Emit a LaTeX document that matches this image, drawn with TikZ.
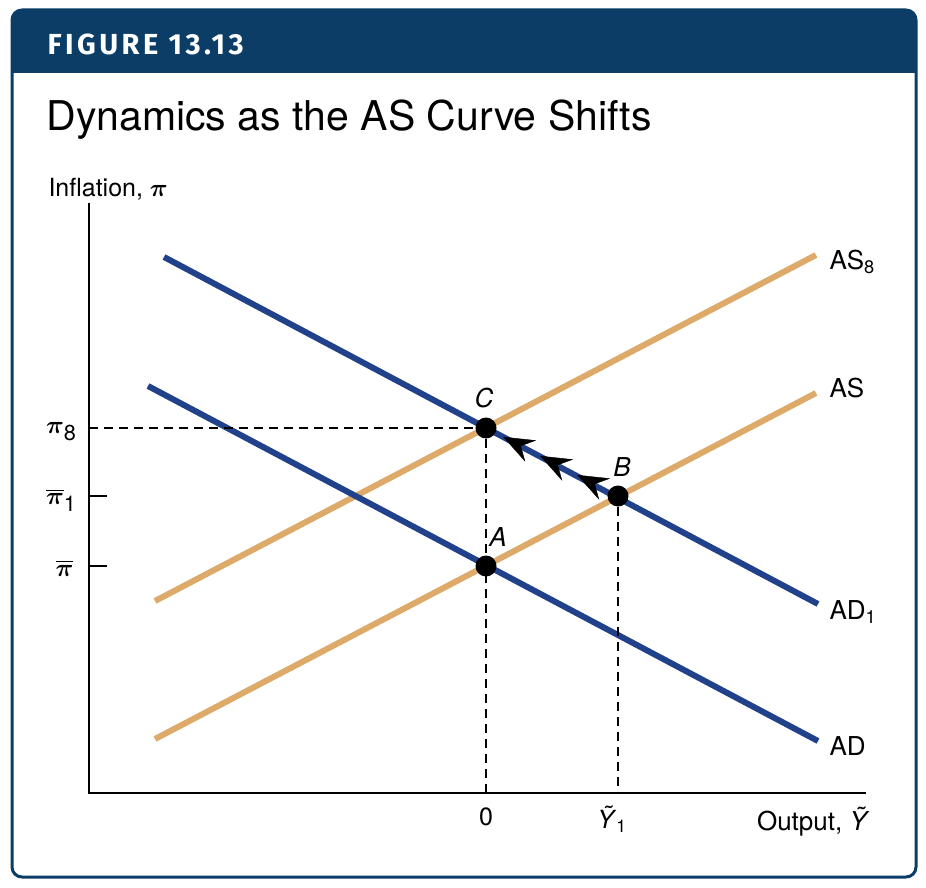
\documentclass[tikz,border=0pt]{standalone}
\usepackage{amsmath,bm}
\usepackage{fontspec}
\setmainfont{TeX Gyre Heros}
\newfontfamily\figfont[LetterSpace=12]{Fira Sans}
\usepackage{xcolor}
\definecolor{navy}{RGB}{11,61,102}
\definecolor{adblue}{RGB}{33,66,138}
\definecolor{asorange}{RGB}{221,170,106}
\usetikzlibrary{arrows.meta,decorations.markings}

\begin{document}
\begin{tikzpicture}[x=1pt, y=-1pt, font=\fontsize{25}{29}\selectfont,
    >={Stealth[length=31pt, width=24pt, inset=11pt]}]
\tikzset{
  ad/.style={line width=6pt, draw=adblue},
  as/.style={line width=6pt, draw=asorange},
  guide/.style={line width=1.3pt, dash pattern=on 9pt off 6pt},
  dot/.style={circle, fill=black, inner sep=0pt, minimum size=21pt},
  ptlbl/.style={font=\fontsize{26}{30}\selectfont\itshape},
  crvlbl/.style={anchor=west, font=\fontsize{26}{30}\selectfont},
  pilbl/.style={anchor=east, font=\fontsize{31}{34}\selectfont},
}
\useasboundingbox (0,0) rectangle (926,888);
% frame and heading
\begin{scope}
  \clip[rounded corners=10pt] (12,10) rectangle (916,877);
  \fill[navy] (12,10) rectangle (916,73);
\end{scope}
\draw[navy, line width=3pt, rounded corners=10pt] (12,10) rectangle (916,877);
\node[anchor=base west, text=white, font=\figfont\bfseries\fontsize{29}{32}\selectfont] (fig) at (44,55) {FIGURE 13.13};
\node[anchor=base west, font=\fontsize{41}{46}\selectfont] (title) at (43,131) {Dynamics as the AS Curve Shifts};

% axes
\coordinate (O) at (89,793);
\coordinate (ytop) at (89,203);
\coordinate (xend) at (866,793);
\draw[line width=1.5pt] (ytop) -- (O) -- (xend);
\node[anchor=base west] (ylab) at (45,196) {Inflation, $\bm{\pi}$};
\node[anchor=east, font=\fontsize{26}{30}\selectfont] (xlab) at (873,822) {Output, \textit{\~{Y}}};

% curve ends
\coordinate (ad0) at (148,386);  \coordinate (ad1) at (818,741);
\coordinate (adA0) at (164,257); \coordinate (adA1) at (818,604);
\coordinate (as0) at (155,739);  \coordinate (as1) at (816,393);
\coordinate (asB0) at (155,601); \coordinate (asB1) at (816,255);
\draw[as] (as0) -- (as1);
\draw[as] (asB0) -- (asB1);
\draw[ad] (ad0) -- (ad1);
\draw[ad] (adA0) -- (adA1);
\node[crvlbl] (lasB) at (826,262) {AS\textsubscript{8}};
\node[crvlbl] (las)  at (826,388) {AS};
\node[crvlbl] (ladA) at (826,612) {AD\textsubscript{1}};
\node[crvlbl] (lad)  at (826,746) {AD};

% equilibria
\node[dot] (C) at (486,428) {};
\node[dot] (B) at (618,496) {};
\node[dot] (A) at (486,566) {};
\node[ptlbl] at (484,398) {C};
\node[ptlbl] at (622,467) {B};
\node[ptlbl] at (498,537) {A};

% guides
\coordinate (pC) at (89,428);
\coordinate (pB) at (89,496);
\coordinate (pA) at (89,566);
\coordinate (yC) at (486,793);
\coordinate (yB) at (618,793);
\draw[guide] (pC) -- (C);
\draw[guide] (C) -- (yC);
\draw[guide] (B) -- (yB);
\draw[line width=1.3pt] (pB) -- ++(18,0);
\draw[line width=1.3pt] (pA) -- ++(18,0);
\node[pilbl] (piC) at (80,432) {$\bm{\pi}$\textsubscript{8}};
\node[pilbl] (piB) at (80,500) {$\bm{\overline{\pi}}$\textsubscript{1}};
\node[pilbl] (piA) at (77,568) {$\bm{\overline{\pi}}$};
\node (zero) at (486,817) {0};
\node (yone) at (612,819) {\textit{\~{Y}}\textsubscript{1}};

% adjustment path
\path[decoration={markings,
    mark=at position 0.31 with {\arrow{>}},
    mark=at position 0.59 with {\arrow{>}},
    mark=at position 0.87 with {\arrow{>}}},
  postaction={decorate}] (B.center) -- (C.center);
\end{tikzpicture}
\end{document}
